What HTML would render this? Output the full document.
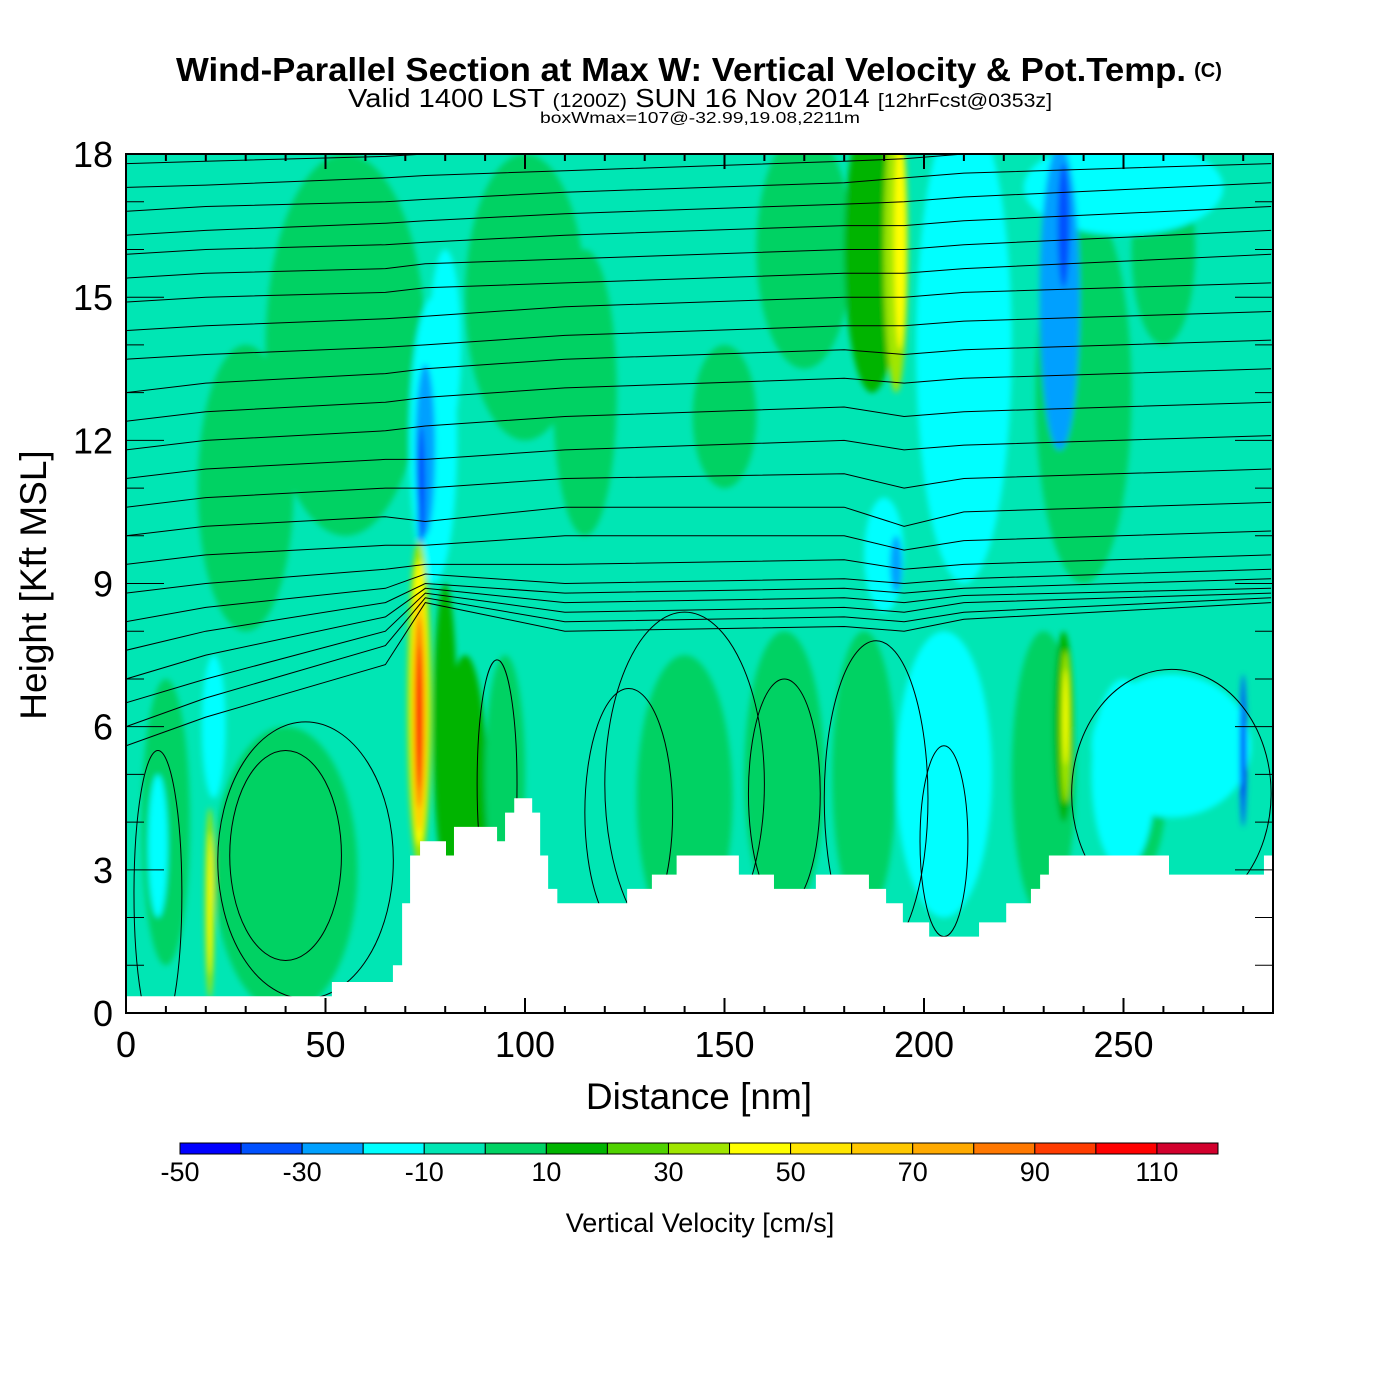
<!DOCTYPE html>
<html><head><meta charset="utf-8"><style>
body{margin:0;background:#fff;}
svg{display:block;font-family:"Liberation Sans",sans-serif;}
</style></head><body>
<svg id="chart" width="1400" height="1400" viewBox="0 0 1400 1400" xmlns="http://www.w3.org/2000/svg">
<defs>
<clipPath id="pc"><rect x="126" y="154" width="1147" height="859"/></clipPath>
<filter id="bl" x="-50%" y="-50%" width="200%" height="200%"><feGaussianBlur stdDeviation="3"/></filter>
</defs>
<text x="176" y="81" font-size="33" font-weight="bold" textLength="1010" lengthAdjust="spacingAndGlyphs">Wind-Parallel Section at Max W: Vertical Velocity &amp; Pot.Temp.</text>
<text x="1208" y="77" font-size="20" font-weight="bold" text-anchor="middle">(C)</text>
<text x="348" y="107" font-size="26" textLength="704" lengthAdjust="spacingAndGlyphs">Valid 1400 LST <tspan font-size="19">(1200Z)</tspan> SUN 16 Nov 2014 <tspan font-size="19">[12hrFcst@0353z]</tspan></text>
<text x="540" y="123" font-size="16" textLength="320" lengthAdjust="spacingAndGlyphs">boxWmax=107@-32.99,19.08,2211m</text>
<g id="plot" clip-path="url(#pc)">
<rect x="126" y="154" width="1147" height="859" fill="#00e6b4"/>
<g id="blobs" filter="url(#bl)"></g>
<g id="contours"></g>
<polygon id="terrain" fill="#fff"/>
</g>
<rect x="126" y="154" width="1147" height="859" fill="none" stroke="#000" stroke-width="2"/>
<g id="axes"></g>
<text x="699" y="1109" font-size="37" text-anchor="middle">Distance [nm]</text>
<text transform="translate(46,585) rotate(-90)" font-size="37" text-anchor="middle">Height [Kft MSL]</text>
<g id="cbar"></g>
<text x="700" y="1232" font-size="27" text-anchor="middle">Vertical Velocity [cm/s]</text>
</svg>
<script>
const colors=["#0000ff","#0050ff","#00a0ff","#00ffff","#00e6b4","#00d264","#00b400","#50d200","#a0e600","#ffff00","#ffe600","#ffc800","#ffaa00","#ff7800","#ff3c00","#ff0000","#d2002d"];
const cbarLabels=[-50,-30,-10,10,30,50,70,90,110];
const xTicks=[0,50,100,150,200,250];
const yTicks=[0,3,6,9,12,15,18];
// blobs: [x nm, y kft, rx nm, ry kft, color index]
const blobs=[
[55,14,20,4,5],[30,11,12,3,5],[100,15,15,3,5],[115,13,8,3,5],[170,16,12,2.5,5],[150,12.5,8,1.5,5],[240,13,12,4,5],[260,16,8,2,5],
[40,3,18,3,5],[85,4,6,3.5,6],[95,5,5,2.5,5],[140,4.5,12,3,5],[165,5,10,3,5],[185,5,8,3,5],[230,5,8,3,5],[255,5,6,2,5],[10,4,6,3,5],
[210,14,12,5,3],[205,5,12,3,3],[250,17.3,25,1,3],[262,5.6,20,1.5,3],[250,5,8,2,3],[190,9.6,5,1.2,3],[77,12,6,3,3],[80,14,4,2,3],[8,3.5,2.5,1.5,3],[22,6,3,1.5,3],
[234,15,5,3.2,2],[75,11.8,2.5,1.8,2],[193,9.4,1.5,0.6,2],
[235,16.5,1.5,1.3,1],[74,11,1,1.3,1],[280,5.5,0.8,1.6,1],[280,5.5,0.4,1,0],
[187,16,7,3,6],[193,16,3,3,8],[194,16.2,1.5,2.3,9],
[80,6,3,3,6],[73.5,6.5,3,3.4,8],[73.5,6.5,2.2,3,9],[73.5,6.3,1.7,2.5,11],[73.5,6.3,1.2,2,13],[73.5,6.2,0.7,1.5,15],
[21,2.3,1.2,2,8],[21,2.3,0.6,1.5,9],
[235,6,2.5,2,6],[235.5,6,1.3,1.6,8],[235.5,6.2,0.6,1,9]
];
const terrX=[0,51.6,66.9,69.2,71.2,73.7,80.2,82.2,93,95,97.3,101.8,103.8,105.8,108.1,125.6,131.8,138,153.6,162.4,172.9,186.2,190.5,194.7,201.3,213.8,220.6,226.8,229.1,231.3,261.4,285.2,289.7];
const terrH=[0.35,0.65,1.0,2.3,3.3,3.6,3.3,3.9,3.6,4.2,4.5,4.2,3.3,2.6,2.3,2.6,2.9,3.3,2.9,2.6,2.9,2.6,2.3,1.9,1.6,1.9,2.3,2.6,2.9,3.3,2.9,3.3,3.3];
const cNodes=[0,20,65,75,110,180,195,210,287];
const cLines=[
[17.8,17.85,17.95,18.0,18.1,18.3,18.3,18.4,18.6],
[17.3,17.35,17.5,17.55,17.65,17.85,17.9,18.0,18.2],
[16.8,16.9,17.0,17.05,17.2,17.4,17.5,17.6,17.8],
[16.3,16.4,16.55,16.6,16.75,16.95,17.0,17.1,17.4],
[15.9,16.0,16.1,16.15,16.3,16.5,16.5,16.6,16.9],
[15.4,15.5,15.6,15.7,15.8,16.0,16.0,16.1,16.4],
[14.9,15.0,15.1,15.2,15.3,15.5,15.5,15.6,15.9],
[14.3,14.4,14.55,14.6,14.8,15.0,15.0,15.1,15.3],
[13.7,13.8,13.95,14.0,14.2,14.4,14.4,14.5,14.7],
[13.0,13.2,13.4,13.5,13.7,13.9,13.8,13.9,14.1],
[12.4,12.6,12.8,12.9,13.1,13.3,13.2,13.3,13.5],
[11.8,12.0,12.2,12.3,12.5,12.7,12.5,12.6,12.8],
[11.2,11.4,11.6,11.6,11.8,12.0,11.8,11.9,12.1],
[10.6,10.8,11.0,11.0,11.2,11.3,11.0,11.2,11.4],
[10.0,10.2,10.4,10.3,10.6,10.6,10.2,10.5,10.7],
[9.4,9.6,9.8,9.8,10.0,10.0,9.7,9.9,10.1],
[8.8,9.0,9.3,9.4,9.4,9.5,9.3,9.4,9.6],
[8.2,8.5,8.9,9.2,9.0,9.1,9.0,9.1,9.3],
[7.6,8.0,8.6,9.0,8.8,8.9,8.8,8.9,9.1],
[7.0,7.5,8.3,8.9,8.6,8.7,8.6,8.75,8.9],
[6.5,7.0,8.0,8.8,8.4,8.5,8.4,8.6,8.8],
[6.0,6.6,7.7,8.7,8.2,8.3,8.2,8.4,8.7],
[5.6,6.2,7.3,8.6,8.0,8.1,8.0,8.25,8.6]
];
// lower closed theta loops: [x nm, y kft, rx nm, ry kft]
const loops=[[126,4.2,11,2.6],[165,4.6,9,2.4],[188,4.5,13,3.3],[205,3.6,6,2.0],[140,4.8,20,3.6],[45,3.2,22,2.9],[93,4.8,5,2.6],[262,4.6,25,2.6],[40,3.3,14,2.2],[8,2.5,6,3.0]];
const NS="http://www.w3.org/2000/svg";
const X=v=>126+v*3.99, Y=v=>1013-v*47.72;
function mk(t,a,p){const e=document.createElementNS(NS,t);for(const k in a)e.setAttribute(k,a[k]);p.appendChild(e);return e;}
const gb=document.getElementById('blobs');
blobs.forEach(b=>{const e=mk('ellipse',{cx:X(b[0]),cy:Y(b[1]),rx:b[2]*3.99,ry:b[3]*47.72,fill:colors[b[4]]},gb);

});
const gc=document.getElementById('contours');
cLines.forEach(l=>{const d=l.map((h,i)=>(i?'L':'M')+X(cNodes[i]).toFixed(1)+','+Y(h).toFixed(1)).join('');
const e=mk('path',{d:d,fill:'none',stroke:'#000','stroke-width':1},gc);

});
loops.forEach(l=>{const e=mk('ellipse',{cx:X(l[0]),cy:Y(l[1]),rx:l[2]*3.99,ry:l[3]*47.72,fill:'none',stroke:'#000','stroke-width':1},gc);

});
let pts=[];terrX.forEach((x,i)=>{const nx=i<terrX.length-1?terrX[i+1]:x;pts.push(X(x)+','+Y(terrH[i]));pts.push(X(nx)+','+Y(terrH[i]));});
pts.push(X(290)+','+1020,X(0)+','+1020);
document.getElementById('terrain').setAttribute('points',pts.join(' '));
const ga=document.getElementById('axes');
for(let v=0;v<=280;v+=10){const maj=v%50===0;
[[1013,-1],[154,1]].forEach(([y0,s])=>{const e=mk('line',{x1:X(v),x2:X(v),y1:y0,y2:y0+s*(maj?15:7),stroke:'#000','stroke-width':2},ga);
});}
xTicks.forEach(v=>{const e=mk('text',{x:X(v),y:1057,'font-size':36,'text-anchor':'middle'},ga);e.textContent=v;
});
for(let v=0;v<=18;v++){const maj=v%3===0;
[[126,1],[1273,-1]].forEach(([x0,s])=>{const e=mk('line',{x1:x0,x2:x0+s*(maj?38:18),y1:Y(v),y2:Y(v),stroke:'#000','stroke-width':1},ga);
});}
yTicks.forEach(v=>{const e=mk('text',{x:113,y:Y(v)+13,'font-size':36,'text-anchor':'end'},ga);e.textContent=v;
});
const gcb=document.getElementById('cbar');const cx0=180,cw=1038/17;
colors.forEach((c,i)=>{const e=mk('rect',{x:cx0+i*cw,y:1143,width:cw,height:11,fill:c,stroke:'#000','stroke-width':1},gcb);
});
cbarLabels.forEach((v,i)=>{const e=mk('text',{x:cx0+i*2*cw,y:1181,'font-size':27,'text-anchor':'middle'},gcb);e.textContent=v;
});
</script>
</body></html>
